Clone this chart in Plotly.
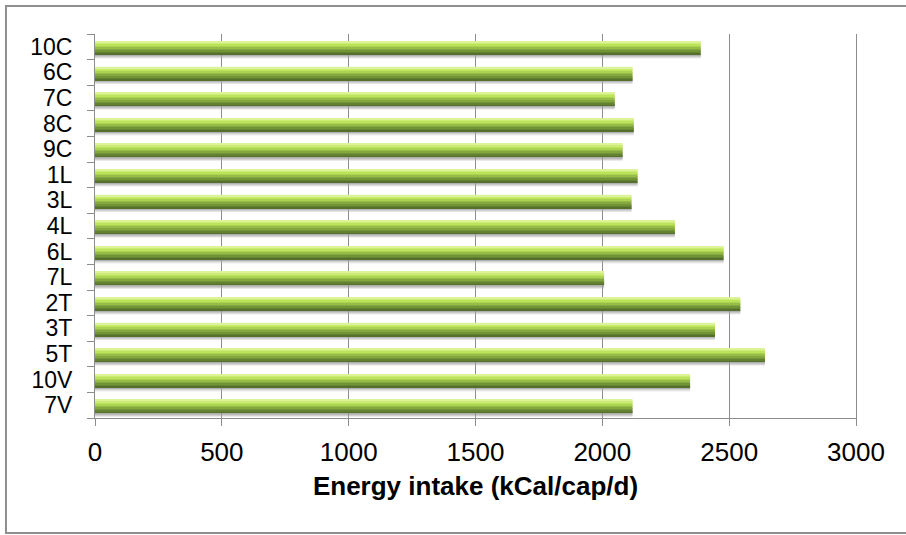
import plotly.graph_objects as go

# Sites, listed bottom to top so 10C ends up at the top of the chart
sites = ["7V", "10V", "5T", "3T", "2T", "7L", "6L", "4L", "3L", "1L",
         "9C", "8C", "7C", "6C", "10C"]
energy_kcal = [2119, 2346, 2641, 2444, 2544, 2007, 2478, 2286, 2115, 2139,
               2080, 2124, 2049, 2119, 2388]

x_ticks = [0, 500, 1000, 1500, 2000, 2500, 3000]

fig = go.Figure()

# Soft drop shadow under each bar (layers for a faded edge)
for lo, hi, col in [(-0.46, -0.26, "rgba(190,190,190,0.30)"),
                    (-0.42, -0.26, "rgba(160,160,160,0.35)"),
                    (-0.37, -0.26, "rgba(130,130,130,0.40)")]:
    fig.add_trace(go.Bar(
        y=sites, x=energy_kcal, orientation="h",
        width=hi - lo, offset=lo,
        marker=dict(color=col, line=dict(width=0)),
        hoverinfo="skip", showlegend=False,
    ))

# Cylinder-like bar built from stacked bands, dark olive at the bottom,
# bright lime and a pale highlight on top
bands = [
    (-0.30, -0.24, "#55702a"),
    (-0.24, -0.18, "#638130"),
    (-0.18, -0.12, "#739338"),
    (-0.12, -0.06, "#85a73f"),
    (-0.06, 0.00, "#98bd47"),
    (0.00, 0.06, "#acd351"),
    (0.06, 0.12, "#bde35c"),
    (0.12, 0.17, "#cdec72"),
    (0.17, 0.22, "#dcf39a"),
]
for lo, hi, col in bands:
    fig.add_trace(go.Bar(
        y=sites, x=energy_kcal, orientation="h",
        width=hi - lo, offset=lo,
        marker=dict(color=col, line=dict(width=0)),
        hoverinfo="skip", showlegend=False,
    ))

grid_col = "#8c8c8c"

fig.update_layout(
    width=906, height=535,
    margin=dict(l=95, r=50, t=34, b=117),
    paper_bgcolor="white", plot_bgcolor="white",
    barmode="overlay",
    font=dict(family="Liberation Sans, Arial, sans-serif", color="black"),
    xaxis=dict(
        range=[0, 3000], tickvals=x_ticks, ticktext=[str(v) for v in x_ticks],
        showgrid=True, gridcolor=grid_col, gridwidth=1,
        showline=True, linecolor=grid_col, linewidth=1,
        ticks="outside", ticklen=7, tickcolor=grid_col,
        tickfont=dict(size=26), ticklabelstandoff=4,
        zeroline=False, layer="below traces",
        title=dict(text="<b>Energy intake (kCal/cap/d)</b>",
                   font=dict(size=26), standoff=10),
        automargin=False,
    ),
    yaxis=dict(
        type="category", categoryorder="array", categoryarray=sites,
        tickmode="array", tickvals=sites, ticktext=sites,
        range=[-0.5, len(sites) - 0.5],
        showgrid=False, showline=True, mirror=True,
        linecolor=grid_col, linewidth=1,
        ticks="outside", ticklen=7, tickcolor=grid_col, tickson="boundaries",
        tickfont=dict(size=23), ticklabelstandoff=17,
        automargin=False,
    ),
    shapes=[dict(
        type="rect", xref="paper", yref="paper",
        x0=-0.117, x1=1.2, y0=-0.2995, y1=1.073,
        line=dict(color="#8f8f8f", width=2),
    )],
)

fig.write_html("out.html")
